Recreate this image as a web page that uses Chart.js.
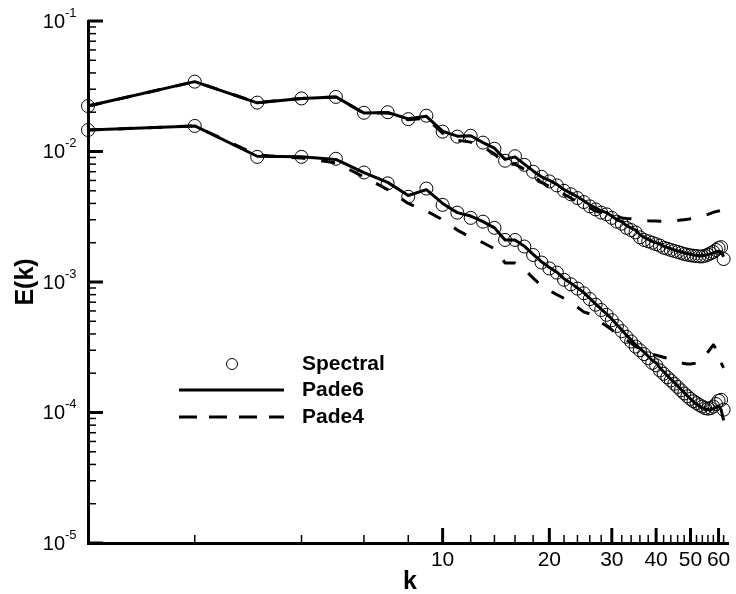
<!DOCTYPE html>
<html>
<head>
<meta charset="utf-8">
<script src="https://cdn.jsdelivr.net/npm/chart.js@4.4.1/dist/chart.umd.min.js"></script>
<style>
  html, body { margin: 0; padding: 0; background: #fff; }
</style>
</head>
<body>
<canvas id="myChart" width="736" height="594"></canvas>
<script>
// wavenumbers
var kValues = [1, 2, 3, 4, 5, 6, 7, 8, 9, 10, 11, 12, 13, 14, 15, 16, 17, 18, 19, 20,
  21, 22, 23, 24, 25, 26, 27, 28, 29, 30, 31, 32, 33, 34, 35, 36, 37, 38, 39, 40,
  41, 42, 43, 44, 45, 46, 47, 48, 49, 50, 51, 52, 53, 54, 55, 56, 57, 58, 59, 60, 61, 62];

// upper spectrum
var spectralUpper = [0.0223, 0.0343, 0.0237, 0.0255, 0.0262, 0.0198, 0.0200, 0.0177, 0.0188, 0.0142,
  0.0130, 0.0132, 0.0117, 0.0105, 0.0085, 0.0092, 0.0079, 0.0070, 0.0064, 0.0059,
  0.0055, 0.0050, 0.0047, 0.0044, 0.0041, 0.0038, 0.0036, 0.0034, 0.0033, 0.0031,
  0.0029, 0.0028, 0.0026, 0.0025, 0.0024, 0.0022, 0.0021, 0.00205, 0.0020, 0.00195,
  0.0019, 0.00183, 0.0018, 0.00176, 0.00173, 0.0017, 0.00167, 0.00164, 0.00162, 0.0016,
  0.00159, 0.00158, 0.00157, 0.00157, 0.00159, 0.00162, 0.00166, 0.0017, 0.00176, 0.00182,
  0.00185, 0.0015];
var pade6Upper = [0.0223, 0.0343, 0.0236, 0.0255, 0.0262, 0.0197, 0.0199, 0.0178, 0.0186, 0.0143,
  0.0131, 0.0132, 0.0117, 0.0106, 0.0087, 0.0091, 0.0080, 0.0071, 0.0064, 0.0060,
  0.0056, 0.0051, 0.0048, 0.0045, 0.0042, 0.0039, 0.0037, 0.0035, 0.0034, 0.0032,
  0.0030, 0.0029, 0.0027, 0.0026, 0.0025, 0.0023, 0.0022, 0.00212, 0.00205, 0.002,
  0.00195, 0.00188, 0.00184, 0.0018, 0.00176, 0.00173, 0.0017, 0.00167, 0.00165, 0.00163,
  0.00161, 0.0016, 0.00159, 0.00159, 0.0016, 0.00162, 0.00164, 0.00167, 0.0017, 0.00172,
  0.0017, 0.00156];
var pade4Upper = [0.0223, 0.0343, 0.0237, 0.0255, 0.0262, 0.0196, 0.0198, 0.0175, 0.0180, 0.0138,
  0.0122, 0.0118, 0.0108, 0.0096, 0.0080, 0.0080, 0.0073, 0.0065, 0.0058, 0.0054,
  0.0050, 0.0047, 0.0044, 0.0041, 0.0039, 0.0037, 0.0035, 0.0034, 0.0033, 0.0032,
  0.00315, 0.0031, 0.00307, 0.00305, 0.00302, 0.0030, 0.00298, 0.00295, 0.00294, 0.00293,
  0.00292, 0.00292, 0.00292, 0.00293, 0.00294, 0.00296, 0.00298, 0.0030, 0.00302, 0.00305,
  0.00307, 0.0031, 0.00315, 0.0032, 0.00325, 0.0033, 0.00336, 0.00342, 0.00346, 0.0035,
  0.00355, 0.0036];

// lower spectrum
var spectralLower = [0.0146, 0.0157, 0.0091, 0.0091, 0.0088, 0.0069, 0.0057, 0.0045, 0.0052, 0.0039,
  0.0034, 0.0031, 0.0029, 0.0026, 0.0021, 0.0021, 0.00187, 0.00161, 0.00141, 0.00127,
  0.00118, 0.00104, 0.00096, 0.00089, 0.00082, 0.00074, 0.00067, 0.00061, 0.00056, 0.00051,
  0.00046, 0.00042, 0.00038, 0.00035, 0.00032, 0.00030, 0.00028, 0.00026, 0.00024, 0.00023,
  0.00021, 0.000198, 0.000186, 0.000176, 0.000166, 0.000157, 0.000148, 0.00014, 0.000133, 0.000127,
  0.000122, 0.000118, 0.000114, 0.000111, 0.000108, 0.000107, 0.000108, 0.000111, 0.000116, 0.000123,
  0.000125, 0.000105];
var pade6Lower = [0.0146, 0.0157, 0.0092, 0.0091, 0.0087, 0.0069, 0.0058, 0.0046, 0.0051, 0.0040,
  0.0034, 0.0032, 0.0029, 0.0026, 0.0021, 0.0021, 0.00188, 0.00163, 0.00143, 0.00129,
  0.00119, 0.00106, 0.00098, 0.0009, 0.00083, 0.00075, 0.00068, 0.00062, 0.00057, 0.00052,
  0.00047, 0.00043, 0.00039, 0.00036, 0.00033, 0.00031, 0.00029, 0.00027, 0.00025, 0.00024,
  0.00022, 0.000205, 0.000192, 0.00018, 0.00017, 0.00016, 0.00015, 0.000142, 0.000134, 0.000127,
  0.000121, 0.000116, 0.000112, 0.000109, 0.000106, 0.000105, 0.000105, 0.000107, 0.00011, 0.000112,
  0.000105, 0.000087];
var pade4Lower = [0.0146, 0.0157, 0.0094, 0.0089, 0.0082, 0.0064, 0.0051, 0.0040, 0.0035, 0.0030,
  0.0025, 0.0022, 0.0020, 0.0018, 0.0014, 0.0014, 0.00125, 0.00107, 0.00094, 0.00086,
  0.0008, 0.00075, 0.00069, 0.00064, 0.00059, 0.00057, 0.00053, 0.00049, 0.00046, 0.00043,
  0.00040, 0.00038, 0.00036, 0.00034, 0.00032, 0.00031, 0.0003, 0.00029, 0.00028, 0.000275,
  0.00027, 0.000265, 0.00026, 0.000255, 0.00025, 0.000245, 0.00024, 0.000237, 0.000235, 0.000235,
  0.000237, 0.00024, 0.000245, 0.000255, 0.00027, 0.00029, 0.00031, 0.00033, 0.00031, 0.00026,
  0.00024, 0.00022];

// axis ticks
var xMajorTicks = [10, 20, 30, 40, 50, 60];
var xMinorTicks = [2, 4, 6, 8, 12, 14, 16, 18, 22, 24, 26, 28, 32, 34, 36, 38,
  42, 44, 46, 48, 52, 54, 56, 58, 62];
var yTickExponents = [-1, -2, -3, -4, -5];
var yMinorMantissas = [2, 3, 4, 5, 6, 7, 8, 9];

var legendLabels = ['Spectral', 'Pade6', 'Pade4'];

function pts(arr) {
  return kValues.map(function(k, i) { return { x: k, y: arr[i] }; });
}

var FONT = 'Arial, "Liberation Sans", Helvetica, sans-serif';

var axisDecor = {
  id: 'axisDecor',
  afterDraw: function(chart) {
    var ctx = chart.ctx;
    var xs = chart.scales.x, ys = chart.scales.y;
    var left = chart.chartArea.left, bottom = chart.chartArea.bottom;
    ctx.save();
    ctx.strokeStyle = '#000';
    ctx.fillStyle = '#000';

    // y ticks (inside)
    yTickExponents.forEach(function(e) {
      var y = ys.getPixelForValue(Math.pow(10, e));
      ctx.lineWidth = 3;
      ctx.beginPath(); ctx.moveTo(left, y); ctx.lineTo(left + 15, y); ctx.stroke();
      if (e === -1) return;
      yMinorMantissas.forEach(function(m) {
        var ym = ys.getPixelForValue(m * Math.pow(10, e));
        ctx.lineWidth = 1.5;
        ctx.beginPath(); ctx.moveTo(left, ym); ctx.lineTo(left + 8, ym); ctx.stroke();
      });
    });
    // y tick labels 10^e
    yTickExponents.forEach(function(e) {
      var y = ys.getPixelForValue(Math.pow(10, e));
      ctx.font = '20px ' + FONT;
      ctx.textAlign = 'right';
      ctx.textBaseline = 'middle';
      ctx.fillText('10', 65, y + 1);
      ctx.font = '13px ' + FONT;
      ctx.textAlign = 'left';
      ctx.fillText(String(e), 65, y - 8);
    });

    // x ticks (inside)
    xMajorTicks.forEach(function(v) {
      var x = xs.getPixelForValue(v);
      ctx.lineWidth = 3;
      ctx.beginPath(); ctx.moveTo(x, bottom); ctx.lineTo(x, bottom - 15); ctx.stroke();
      ctx.font = '21px ' + FONT;
      ctx.textAlign = 'center';
      ctx.textBaseline = 'middle';
      ctx.fillText(String(v), x, bottom + 17);
    });
    xMinorTicks.forEach(function(v) {
      var x = xs.getPixelForValue(v);
      ctx.lineWidth = 1.5;
      ctx.beginPath(); ctx.moveTo(x, bottom); ctx.lineTo(x, bottom - 8); ctx.stroke();
    });

    // axis titles
    ctx.font = 'bold 25px ' + FONT;
    ctx.textAlign = 'center';
    ctx.textBaseline = 'middle';
    ctx.fillText('k', 410, 582);
    ctx.save();
    ctx.translate(26, 282);
    ctx.rotate(-Math.PI / 2);
    ctx.fillText('E(k)', 0, 0);
    ctx.restore();

    // legend
    ctx.lineWidth = 1;
    ctx.beginPath(); ctx.arc(232, 364, 5.5, 0, Math.PI * 2); ctx.stroke();
    ctx.lineWidth = 3;
    ctx.beginPath(); ctx.moveTo(179, 390); ctx.lineTo(284, 390); ctx.stroke();
    ctx.setLineDash([18, 12]);
    ctx.beginPath(); ctx.moveTo(179, 417); ctx.lineTo(284, 417); ctx.stroke();
    ctx.setLineDash([]);
    ctx.font = 'bold 21px ' + FONT;
    ctx.textAlign = 'left';
    ctx.textBaseline = 'middle';
    ctx.fillText(legendLabels[0], 302, 364);
    ctx.fillText(legendLabels[1], 302, 390);
    ctx.fillText(legendLabels[2], 302, 417);
    ctx.restore();
  }
};

function lineSet(label, arr, dash) {
  return {
    label: label,
    data: pts(arr),
    showLine: true,
    borderColor: '#000',
    borderWidth: 3,
    borderDash: dash,
    pointRadius: 0,
    fill: false,
    tension: 0,
    borderJoinStyle: 'round',
    clip: false
  };
}

function circleSet(label, arr) {
  return {
    label: label,
    data: pts(arr),
    showLine: false,
    pointStyle: 'circle',
    pointRadius: 6.5,
    pointBorderWidth: 1,
    pointBorderColor: '#000',
    pointBackgroundColor: 'rgba(0,0,0,0)',
    clip: false
  };
}

var ctx = document.getElementById('myChart');
var myChart = new Chart(ctx, {
  type: 'scatter',
  data: {
    datasets: [
      circleSet(legendLabels[0], spectralUpper),
      circleSet(legendLabels[0] + ' (lower)', spectralLower),
      lineSet(legendLabels[1], pade6Upper, []),
      lineSet(legendLabels[1] + ' (lower)', pade6Lower, []),
      lineSet(legendLabels[2], pade4Upper, [14, 16]),
      lineSet(legendLabels[2] + ' (lower)', pade4Lower, [14, 16])
    ]
  },
  options: {
    responsive: false,
    animation: false,
    devicePixelRatio: 1,
    layout: { padding: { left: 88, right: 5, top: 21, bottom: 51 } },
    plugins: {
      legend: { display: false },
      tooltip: { enabled: false }
    },
    scales: {
      x: {
        type: 'logarithmic',
        min: 1,
        max: 64,
        ticks: { display: false },
        grid: { display: false, drawTicks: false, tickLength: 0 },
        border: { display: true, color: '#000', width: 3 }
      },
      y: {
        type: 'logarithmic',
        min: 1e-5,
        max: 1e-1,
        ticks: { display: false },
        grid: { display: false, drawTicks: false, tickLength: 0 },
        border: { display: true, color: '#000', width: 3 }
      }
    }
  },
  plugins: [axisDecor]
});
</script>
</body>
</html>
